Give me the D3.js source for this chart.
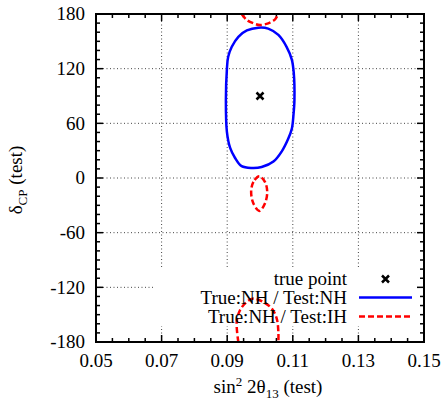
<!DOCTYPE html>
<html><head><meta charset="utf-8">
<script src="https://cdn.jsdelivr.net/npm/d3@7"></script>
<style>body{margin:0;background:#fff}svg{display:block}</style>
</head><body>
<svg id="c" width="444" height="400" font-family="'Liberation Serif', 'Times New Roman', serif"></svg>
<script>
// ---- data ----
const xTicks = [0.05, 0.07, 0.09, 0.11, 0.13, 0.15];
const xTickLabels = ["0.05", "0.07", "0.09", "0.11", "0.13", "0.15"];
const yTicks = [-180, -120, -60, 0, 60, 120, 180];
const yTickLabels = ["-180", "-120", "-60", "0", "60", "120", "180"];
const truePoint = [0.1, 90];
// True:NH / Test:NH (closed contour)
const nhX = [0.0995,0.1025,0.1056,0.1081,0.1097,0.1103,0.1105,0.1102,0.1097,0.1086,0.1066,0.1041,0.1005,0.0975,0.0944,0.0924,0.0909,0.0899,0.0896,0.0899,0.0903,0.0914,0.0934,0.0960];
const nhY = [165,164,157,144,130,115,86,69,54,43,29,18,12,11,13,22,33,51,86,119,133,144,155,162];
// True:NH / Test:IH (three pieces)
const ihTopX = [0.0944,0.0960,0.0980,0.1000,0.1025,0.1046,0.1056];
const ihTopY = [180,173.4,169.8,167.9,169.8,174.2,180];
const ihMidX = [0.0998,0.0980,0.0973,0.0980,0.0998,0.1015,0.1022,0.1015];
const ihMidY = [2,-4.2,-15.2,-28,-36.1,-28,-15.2,-4.2];
const ihBotX = [0.0934,0.0929,0.0939,0.0959,0.0980,0.1010,0.1036,0.1051,0.1056,0.1056];
const ihBotY = [-180,-158,-145.2,-136.1,-132.3,-136.1,-143.3,-154.3,-169,-180];
const legendLabels = ["true point", "True:NH / Test:NH", "True:NH / Test:IH"];

// ---- layout ----
const L = 96, R = 424, T = 14, B = 342;
const svg = d3.select("#c");
const x = d3.scaleLinear().domain([0.05, 0.15]).range([L, R]);
const y = d3.scaleLinear().domain([-180, 180]).range([B, T]);
const FS = 19;

// grid
const grid = svg.append("g").attr("stroke", "#444").attr("stroke-width", 1).attr("stroke-dasharray", "1,2.5");
xTicks.slice(1, -1).forEach(v => grid.append("line").attr("x1", x(v)).attr("x2", x(v)).attr("y1", T).attr("y2", B));
yTicks.slice(1, -1).forEach(v => grid.append("line").attr("x1", L).attr("x2", R).attr("y1", y(v)).attr("y2", y(v)));

// legend box (opaque)
svg.append("rect").attr("x", 154).attr("y", 268).attr("width", R - 154 - 1).attr("height", 58).attr("fill", "#fff");

// ticks
const tk = svg.append("g").attr("stroke", "#000").attr("stroke-width", 1.5);
const xMinor = d3.range(0, 21).map(i => 0.05 + i * 0.005);
xMinor.forEach((v, i) => {
  const len = (i % 4 === 0) ? 7 : 4;
  tk.append("line").attr("x1", x(v)).attr("x2", x(v)).attr("y1", B).attr("y2", B - len);
  tk.append("line").attr("x1", x(v)).attr("x2", x(v)).attr("y1", T).attr("y2", T + len);
});
d3.range(-180, 181, 10).forEach(v => {
  const len = (v % 60 === 0) ? 7 : 4;
  tk.append("line").attr("x1", L).attr("x2", L + len).attr("y1", y(v)).attr("y2", y(v));
  tk.append("line").attr("x1", R).attr("x2", R - len).attr("y1", y(v)).attr("y2", y(v));
});

// contours
const line = d3.line().x(d => x(d[0])).y(d => y(d[1]));
const zip = (a, b) => a.map((v, i) => [v, b[i]]);
svg.append("path").datum(zip(nhX, nhY))
  .attr("d", line.curve(d3.curveCatmullRomClosed.alpha(0.5)))
  .attr("fill", "none").attr("stroke", "#0000ff").attr("stroke-width", 2.5);
const red = d => svg.append("path").datum(d.pts).attr("d", d3.line().x(p => x(p[0])).y(p => y(p[1])).curve(d.curve))
  .attr("fill", "none").attr("stroke", "#ff0000").attr("stroke-width", 2.5).attr("stroke-dasharray", "6,3");
red({pts: zip(ihTopX, ihTopY), curve: d3.curveCatmullRom.alpha(0.5)});
red({pts: zip(ihMidX, ihMidY), curve: d3.curveCatmullRomClosed.alpha(0.5)});
red({pts: zip(ihBotX, ihBotY), curve: d3.curveCatmullRom.alpha(0.5)});

// true point
const tp = [x(truePoint[0]), y(truePoint[1])];
svg.append("path").attr("d", `M${tp[0]-3.5},${tp[1]-3.5}L${tp[0]+3.5},${tp[1]+3.5}M${tp[0]-3.5},${tp[1]+3.5}L${tp[0]+3.5},${tp[1]-3.5}`)
  .attr("stroke", "#000").attr("stroke-width", 2.5);

// frame
svg.append("rect").attr("x", L).attr("y", T).attr("width", R - L).attr("height", B - T)
  .attr("fill", "none").attr("stroke", "#000").attr("stroke-width", 2);

// tick labels
svg.append("g").selectAll("text").data(xTicks).join("text")
  .attr("x", d => x(d)).attr("y", 367).attr("text-anchor", "middle").attr("font-size", FS)
  .text((d, i) => xTickLabels[i]);
svg.append("g").selectAll("text").data(yTicks).join("text")
  .attr("x", 85).attr("y", d => y(d)).attr("dy", "0.33em").attr("text-anchor", "end").attr("font-size", FS)
  .text((d, i) => yTickLabels[i]);

// axis titles
const xt = svg.append("text").attr("x", 268).attr("y", 393).attr("text-anchor", "middle").attr("font-size", FS);
xt.append("tspan").text("sin");
xt.append("tspan").attr("dy", -7).attr("font-size", 13).text("2");
xt.append("tspan").attr("dy", 7).text(" 2θ");
xt.append("tspan").attr("dy", 5).attr("font-size", 13).text("13");
xt.append("tspan").attr("dy", -5).text(" (test)");
const yt = svg.append("text").attr("transform", "translate(22,180) rotate(-90)").attr("text-anchor", "middle").attr("font-size", FS);
yt.append("tspan").text("δ");
yt.append("tspan").attr("dy", 5).attr("font-size", 13).text("CP");
yt.append("tspan").attr("dy", -5).text(" (test)");

// legend
const lg = svg.append("g");
[285, 304, 323].forEach((by, i) => lg.append("text").attr("x", 347).attr("y", by).attr("text-anchor", "end").attr("font-size", FS).text(legendLabels[i]));
const lx = 385.5, ly = 279;
lg.append("path").attr("d", `M${lx-3.5},${ly-3.5}L${lx+3.5},${ly+3.5}M${lx-3.5},${ly+3.5}L${lx+3.5},${ly-3.5}`).attr("stroke", "#000").attr("stroke-width", 2.5);
lg.append("line").attr("x1", 359).attr("x2", 412).attr("y1", 297.5).attr("y2", 297.5).attr("stroke", "#0000ff").attr("stroke-width", 2.5);
lg.append("line").attr("x1", 359).attr("x2", 412).attr("y1", 316.5).attr("y2", 316.5).attr("stroke", "#ff0000").attr("stroke-width", 2.5).attr("stroke-dasharray", "6,3");
</script>
</body></html>
